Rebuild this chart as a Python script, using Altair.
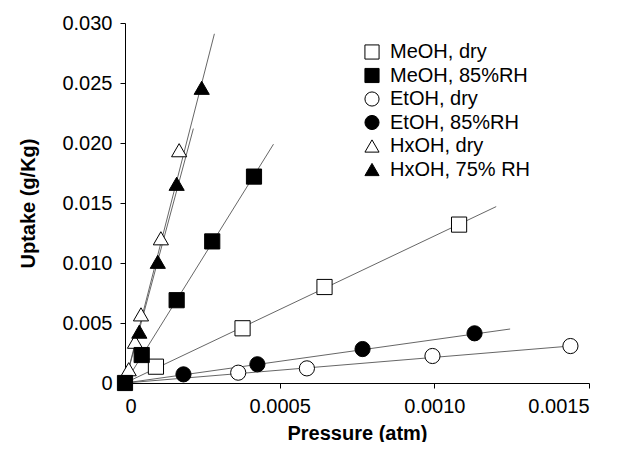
import altair as alt
import pandas as pd

series = ["MeOH, dry", "MeOH, 85%RH", "EtOH, dry", "EtOH, 85%RH", "HxOH, dry", "HxOH, 75% RH"]
shapes = ["square", "square", "circle", "circle", "triangle-up", "triangle-up"]
fills = ["white", "black", "white", "black", "white", "black"]
strokes = ["black"] * 6

meoh_dry_x = [0.0001, 0.00038, 0.000645, 0.00108]
meoh_dry_y = [0.00136, 0.00456, 0.0080, 0.0132]
meoh_rh_x = [0.0, 0.000054, 0.000167, 0.000282, 0.000417]
meoh_rh_y = [0.0, 0.00233, 0.0069, 0.0118, 0.0172]
etoh_dry_x = [0.000366, 0.000588, 0.000994, 0.00144]
etoh_dry_y = [0.00086, 0.00122, 0.00225, 0.00308]
etoh_rh_x = [0.000189, 0.000428, 0.000768, 0.00113]
etoh_rh_y = [0.00072, 0.00156, 0.00283, 0.00414]
hxoh_dry_x = [0.000012, 0.0000323, 0.0000517, 0.000116, 0.000175]
hxoh_dry_y = [0.00115, 0.00344, 0.00572, 0.01206, 0.0194]
hxoh_rh_x = [0.0000463, 0.000106, 0.000167, 0.000248]
hxoh_rh_y = [0.00428, 0.0101, 0.0166, 0.0246]

# fitted lines: from origin to end point
fit_end_x = [0.0012, 0.00048, 0.00144, 0.001245, 0.000221, 0.000289]
fit_end_y = [0.0147, 0.0199, 0.00308, 0.0045, 0.0212, 0.0291]

x_ticks = [0, 0.0005, 0.001, 0.0015]
y_ticks = [0, 0.005, 0.01, 0.015, 0.02, 0.025, 0.03]

pts_x = [meoh_dry_x, meoh_rh_x, etoh_dry_x, etoh_rh_x, hxoh_dry_x, hxoh_rh_x]
pts_y = [meoh_dry_y, meoh_rh_y, etoh_dry_y, etoh_rh_y, hxoh_dry_y, hxoh_rh_y]

# draw order: open squares first, filled square at origin on top
order = [0, 2, 3, 4, 5, 1]
rows = []
for k, i in enumerate(order):
    for xv, yv in zip(pts_x[i], pts_y[i]):
        rows.append({"series": series[i], "x": xv, "y": yv, "ord": k})
pts = pd.DataFrame(rows)

lrows = []
for i, s in enumerate(series):
    lrows.append({"series": s, "x": 0.0, "y": 0.0, "o": 0})
    lrows.append({"series": s, "x": fit_end_x[i], "y": fit_end_y[i], "o": 1})
lines = pd.DataFrame(lrows)

FONT = "Liberation Sans"

xscale = alt.Scale(domain=[0, 0.0015], nice=False, zero=False)
yscale = alt.Scale(domain=[0, 0.03], nice=False, zero=False)

xaxis = alt.Axis(values=x_ticks, title="Pressure (atm)",
                 labelExpr="datum.value == 0 ? '0' : format(datum.value, '.4f')")
yaxis = alt.Axis(values=y_ticks, title="Uptake (g/Kg)",
                 labelExpr="datum.value == 0 ? '0' : format(datum.value, '.3f')")

line_layer = alt.Chart(lines).mark_line(color="#555555", strokeWidth=0.9).encode(
    x=alt.X("x:Q", scale=xscale, axis=xaxis),
    y=alt.Y("y:Q", scale=yscale, axis=yaxis),
    detail="series:N",
    order="o:Q",
)

leg = alt.Legend(title=None, orient="none", legendX=237, legendY=19,
                 symbolSize=200, symbolStrokeWidth=1,
                 labelFontSize=20, labelFont=FONT, labelColor="black",
                 labelOffset=8, rowPadding=3.5, padding=0)

point_layer = alt.Chart(pts).mark_point(filled=True, strokeWidth=1, opacity=1, size=230).encode(
    x=alt.X("x:Q", scale=xscale),
    y=alt.Y("y:Q", scale=yscale),
    shape=alt.Shape("series:N", scale=alt.Scale(domain=series, range=shapes), legend=leg),
    fill=alt.Fill("series:N", scale=alt.Scale(domain=series, range=fills), legend=leg),
    stroke=alt.Stroke("series:N", scale=alt.Scale(domain=series, range=strokes), legend=leg),
    order="ord:Q",
)

chart = alt.layer(line_layer, point_layer).properties(
    width=464, height=360,
    autosize=alt.AutoSizeParams(type="none"),
    padding={"left": 117, "top": 15, "right": 23, "bottom": 59},
).configure_view(stroke=None).configure_axis(
    grid=False, domainColor="black", tickColor="black", tickSize=5,
    labelFont=FONT, labelFontSize=20, labelColor="black", labelPadding=8,
    titleFont=FONT, titleFontSize=20, titleFontWeight="bold", titleColor="black",
).configure_axisX(titlePadding=7).configure_axisY(titlePadding=23)

chart.save("out.html", embed_options={"renderer": "svg", "actions": False})
